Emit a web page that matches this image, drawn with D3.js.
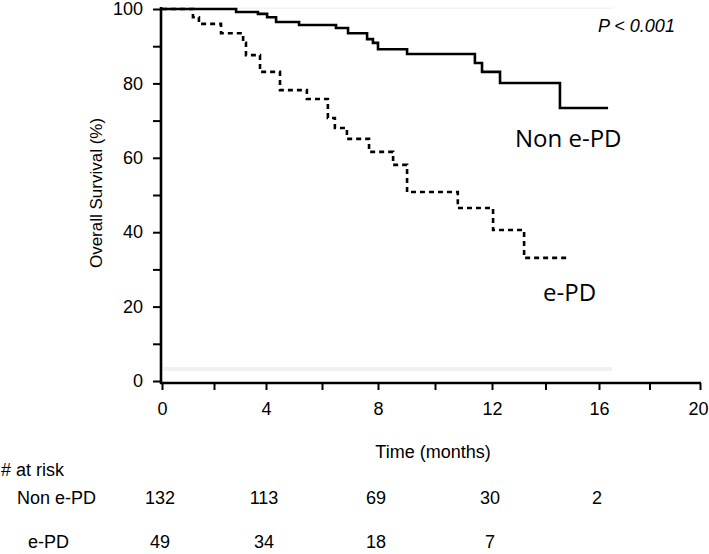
<!DOCTYPE html>
<html>
<head>
<meta charset="utf-8">
<script src="https://cdn.jsdelivr.net/npm/d3@7"></script>
<style>
  html, body { margin: 0; padding: 0; background: #fff; }
  svg { display: block; }
  text { font-family: "Liberation Sans", Arial, sans-serif; fill: #000; }
</style>
</head>
<body>
<svg id="chart" width="709" height="554"></svg>
<script>
// ---- Data ----
const nonEpdTime = [0, 2.85, 3.69, 4.04, 4.36, 5.18, 6.5, 6.93, 7.61, 7.82, 8.0, 9.02, 11.4, 11.65, 12.3, 14.54, 16.36];
const nonEpdSurv = [100, 99.2, 98.7, 97.8, 96.5, 95.7, 94.9, 93.5, 91.9, 90.9, 89.2, 87.9, 85.5, 83.1, 80.1, 73.4, 73.4];

const epdTime = [0, 1.19, 1.42, 2.27, 3.12, 3.23, 3.77, 4.5, 5.46, 6.21, 6.46, 6.89, 7.68, 8.53, 9.02, 10.8, 12.04, 13.2, 14.9];
const epdSurv = [100, 97.8, 96.0, 93.5, 90.9, 87.6, 83.1, 78.2, 75.8, 70.7, 68.0, 65.1, 61.6, 58.1, 50.8, 46.5, 40.6, 33.1, 33.1];

const xTicks = [0, 2, 4, 6, 8, 10, 12, 14, 16, 18, 20];
const xTickLabels = [0, 4, 8, 12, 16, 20];
const yTicks = [0, 10, 20, 30, 40, 50, 60, 70, 80, 90, 100];
const yTickLabels = [0, 20, 40, 60, 80, 100];

const riskTimes = [0, 4, 8, 12, 16];
const riskGroups = ["Non e-PD", "e-PD"];
const riskNonEpd = [132, 113, 69, 30, 2];
const riskEpd = [49, 34, 18, 7];

const seriesLabels = ["Non e-PD", "e-PD"];
const pText = "P < 0.001";

// ---- Scales ----
const svg = d3.select("#chart");
const x = d3.scaleLinear().domain([0, 4, 8, 12, 16, 20]).range([162, 266, 378, 492, 599, 700]);
const y = d3.scaleLinear().domain([0, 100]).range([381, 9]);

// faint scan artifacts
svg.append("rect").attr("x", 160).attr("y", 7.5).attr("width", 453).attr("height", 1.5).attr("fill", "#f3f3f3");
svg.append("rect").attr("x", 163).attr("y", 367).attr("width", 449).attr("height", 4).attr("fill", "#f2f2f2");

// ---- Axes ----
const yAxis = d3.axisLeft(y).tickValues(yTicks).tickSize(8).tickSizeOuter(0)
  .tickFormat(d => yTickLabels.includes(d) ? d : "").tickPadding(10);
const gy = svg.append("g").attr("transform", "translate(161,0)").call(yAxis);
gy.select(".domain").remove();
gy.selectAll(".tick line").attr("stroke", "#000").attr("stroke-width", 2);
gy.selectAll(".tick text").style("font-size", "18px").style("font-family", "Liberation Sans, Arial, sans-serif").attr("fill", "#000");
svg.append("line").attr("x1", 161).attr("x2", 161).attr("y1", 7).attr("y2", 384)
  .attr("stroke", "#000").attr("stroke-width", 2.6);

const xAxis = d3.axisBottom(x).tickValues(xTicks).tickSize(7).tickSizeOuter(0)
  .tickFormat(d => xTickLabels.includes(d) ? d : "").tickPadding(12);
const gx = svg.append("g").attr("transform", "translate(0,383)").call(xAxis);
gx.select(".domain").remove();
gx.selectAll(".tick line").attr("stroke", "#000").attr("stroke-width", 2);
gx.selectAll(".tick text").style("font-size", "18px").style("font-family", "Liberation Sans, Arial, sans-serif").attr("fill", "#000")
  .attr("dx", d => d === 20 ? -2 : 0);
svg.append("line").attr("x1", 160).attr("x2", 701).attr("y1", 383).attr("y2", 383)
  .attr("stroke", "#000").attr("stroke-width", 2.6);

// axis titles
svg.append("text").attr("transform", "translate(102,193) rotate(-90)")
  .attr("text-anchor", "middle").style("font-size", "17px").text("Overall Survival (%)");
svg.append("text").attr("x", 433).attr("y", 458)
  .attr("text-anchor", "middle").style("font-size", "18px").text("Time (months)");

// ---- Curves ----
const line = d3.line().x(d => x(d[0])).y(d => y(d[1])).curve(d3.curveStepAfter);
const nonEpd = nonEpdTime.map((t, i) => [t, nonEpdSurv[i]]);
const epd = epdTime.map((t, i) => [t, epdSurv[i]]);

svg.append("path").datum(epd).attr("d", line).attr("fill", "none")
  .attr("stroke", "#000").attr("stroke-width", 2.6).attr("stroke-dasharray", "5,4");
svg.append("path").datum(nonEpd).attr("d", line).attr("fill", "none")
  .attr("stroke", "#000").attr("stroke-width", 2.6);

// curve labels
svg.append("text").attr("x", 515).attr("y", 147)
  .style("font-family", "Open Sans, sans-serif").style("font-size", "24px").text(seriesLabels[0]);
svg.append("text").attr("x", 543).attr("y", 301)
  .style("font-family", "Open Sans, sans-serif").style("font-size", "24px").text(seriesLabels[1]);

// p-value
svg.append("text").attr("x", 598).attr("y", 32)
  .style("font-size", "18px").style("font-style", "italic").text(pText);

// ---- Risk table ----
svg.append("text").attr("x", 1).attr("y", 476).style("font-size", "18px").text("# at risk");
svg.append("text").attr("x", 17).attr("y", 504).style("font-size", "18px").text(riskGroups[0]);
svg.append("text").attr("x", 28).attr("y", 548).style("font-size", "18px").text(riskGroups[1]);

svg.append("g").selectAll("text").data(riskNonEpd).join("text")
  .attr("x", (d, i) => x(riskTimes[i]) - 2).attr("y", 504)
  .attr("text-anchor", "middle").style("font-size", "18px").text(d => d);
svg.append("g").selectAll("text").data(riskEpd).join("text")
  .attr("x", (d, i) => x(riskTimes[i]) - 2).attr("y", 548)
  .attr("text-anchor", "middle").style("font-size", "18px").text(d => d);
</script>
</body>
</html>
